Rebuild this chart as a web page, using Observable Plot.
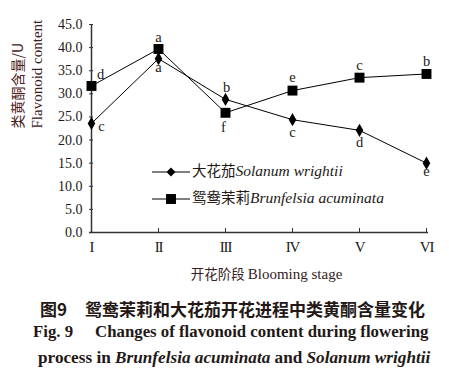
<!DOCTYPE html>
<html><head><meta charset="utf-8">
<script src="https://cdn.jsdelivr.net/npm/d3@7"></script>
<script src="https://cdn.jsdelivr.net/npm/@observablehq/plot@0.6"></script>
<style>
body{margin:0;background:#fff;width:449px;height:373px;overflow:hidden;position:relative;}
#chart svg{display:block;}
.cap{position:absolute;left:0;white-space:pre;line-height:1;color:#231815;}
#t1{top:296px;left:40px;font:bold 17px "Noto Sans CJK SC",sans-serif;}
#t2{top:322px;left:33px;font:bold 16.8px "Liberation Serif","Times New Roman",serif;}
#t3{top:348px;left:38px;font:bold 17.2px "Liberation Serif","Times New Roman",serif;}
.serifmark text, tspan.lat{font-family:"Liberation Serif","Times New Roman",serif !important;}
.cjkmark text, tspan.cjk{font-family:"Noto Sans CJK SC",sans-serif !important;}
</style></head>
<body>
<div id="chart"></div>
<div class="cap" id="t1">图9<span style="display:inline-block;width:18px"></span>鸳鸯茉莉和大花茄开花进程中类黄酮含量变化</div>
<div class="cap" id="t2">Fig. 9<span style="display:inline-block;width:22px"></span>Changes of flavonoid content during flowering</div>
<div class="cap" id="t3">process in <i>Brunfelsia acuminata</i> and <i>Solanum wrightii</i></div>
<script>
const stages = ["I","II","III","IV","V","VI"];
const yTicks = [0,5,10,15,20,25,30,35,40,45];
const seriesNames = ["大花茄", "鸳鸯茉莉"];
const seriesLatin = ["Solanum wrightii", "Brunfelsia acuminata"];
const solanum = [23.6, 37.6, 28.8, 24.4, 22.1, 15.0];
const brunfelsia = [31.7, 39.7, 25.9, 30.7, 33.5, 34.3];
const solanumSig = ["c","a","b","c","d","e"];
const brunfelsiaSig = ["d","a","f","e","c","b"];
const yLabelCJK = "类黄酮含量/U";
const yLabelLatin = "Flavonoid content";
const xLabelCJK = "开花阶段";
const xLabelLatin = "Blooming stage";
// label placement offsets (style)
const solanumOff = [[10,3],[0,9],[1,-12],[0,13],[0,12],[0,8]];
const brunfelsiaOff = [[9,-12],[0,-12],[-2,15],[0,-13],[0,-12],[0,-13]];

const dS = stages.map((s,i)=>({stage:s, v:solanum[i], sig:solanumSig[i], dx:solanumOff[i][0], dy:solanumOff[i][1]}));
const dB = stages.map((s,i)=>({stage:s, v:brunfelsia[i], sig:brunfelsiaSig[i], dx:brunfelsiaOff[i][0], dy:brunfelsiaOff[i][1]}));

const ink = "#231815";
const serif = '"Liberation Serif","Times New Roman",serif';
const W = 449, H = 285, mL = 89, mR = 21, mT = 24, mB = 53;
const fw = W - mL - mR, fh = H - mT - mB;

const sigMarks = d => d.map(p => Plot.text([p], {x:"stage", y:"v", text:"sig", dx:p.dx, dy:p.dy, fontSize:14.5, fill:ink, className:"serifmark"}));

const plot = Plot.plot({
  width: W, height: H,
  marginLeft: mL, marginRight: mR, marginTop: mT, marginBottom: mB,
  style: {color: ink, background: "#fff", fontFamily: serif, overflow:"visible"},
  x: {type:"point", domain: stages, padding: 0},
  y: {domain: [0,45]},
  marks: [
    Plot.axisY({ticks: yTicks, tickFormat: d => d.toFixed(1), tickSize: 0, tickPadding: 7, label: null, fontSize: 14, fill: ink, className:"serifmark"}),
    Plot.axisX({tickSize: 0, tickPadding: 9, label: null, fontSize: 15, fill: ink, className: "xroman serifmark"}),
    Plot.tickY(yTicks, {y: d => d, insetRight: fw - 4, stroke: "#333", strokeWidth: 1}),
    Plot.tickX(stages, {x: d => d, insetTop: fh - 4, stroke: "#333", strokeWidth: 1}),
    Plot.ruleX([stages[0]], {stroke: "#333", strokeWidth: 1.5}),
    Plot.ruleY([0], {stroke: "#333", strokeWidth: 1.5}),
    Plot.line(dS, {x:"stage", y:"v", stroke:"#000", strokeWidth:1}),
    Plot.line(dB, {x:"stage", y:"v", stroke:"#000", strokeWidth:1}),
    Plot.dot(dS, {x:"stage", y:"v", symbol:"diamond", r:4, fill:"#000", stroke:"none"}),
    Plot.dot(dB, {x:"stage", y:"v", symbol:"square", r:5.6, fill:"#000", stroke:"none"}),
    ...sigMarks(dS),
    ...sigMarks(dB),
    Plot.text([yLabelCJK], {frameAnchor:"left", rotate:-90, dx:-71, fontSize:14, fill:"#4a2020", className:"cjkmark"}),
    Plot.text([yLabelLatin], {frameAnchor:"left", rotate:-90, dx:-52, fontSize:15, fill:"#3a2020", className:"serifmark"})
  ]
});
document.getElementById("chart").append(plot);
const svg = d3.select(plot);
svg.selectAll(".xroman text").attr("letter-spacing", "-1.2");

// x-axis title (two fonts)
const xt = svg.append("text").attr("text-anchor","middle").attr("x", mL + fw/2 + 8).attr("y", H - mB + 43).attr("dy","0.35em").attr("fill","#3a2020");
xt.append("tspan").attr("class","cjk").style("font-size","13.5px").text(xLabelCJK + " ");
xt.append("tspan").attr("class","lat").style("font-size","15px").text(xLabelLatin);

// legend inside plot area
const lg = svg.append("g").attr("text-anchor","start");
const rows = [{y:172, sym:d3.symbolDiamond2, size:Math.PI*16}, {y:199, sym:d3.symbolSquare, size:Math.PI*5.6*5.6}];
rows.forEach((r,i) => {
  lg.append("path").attr("d", `M152,${r.y}H190`).attr("stroke","#000").attr("stroke-width",1).attr("fill","none");
  lg.append("path").attr("d", d3.symbol(r.sym, r.size)()).attr("transform",`translate(171,${r.y})`).attr("fill","#000");
  const t = lg.append("text").attr("x",192).attr("y",r.y).attr("dy","0.35em").attr("fill",ink);
  t.append("tspan").attr("class","cjk").style("font-size","14.5px").text(seriesNames[i]);
  t.append("tspan").attr("class","lat").style("font-size","15.5px").style("font-style","italic").text(seriesLatin[i]);
});
</script>
</body></html>
